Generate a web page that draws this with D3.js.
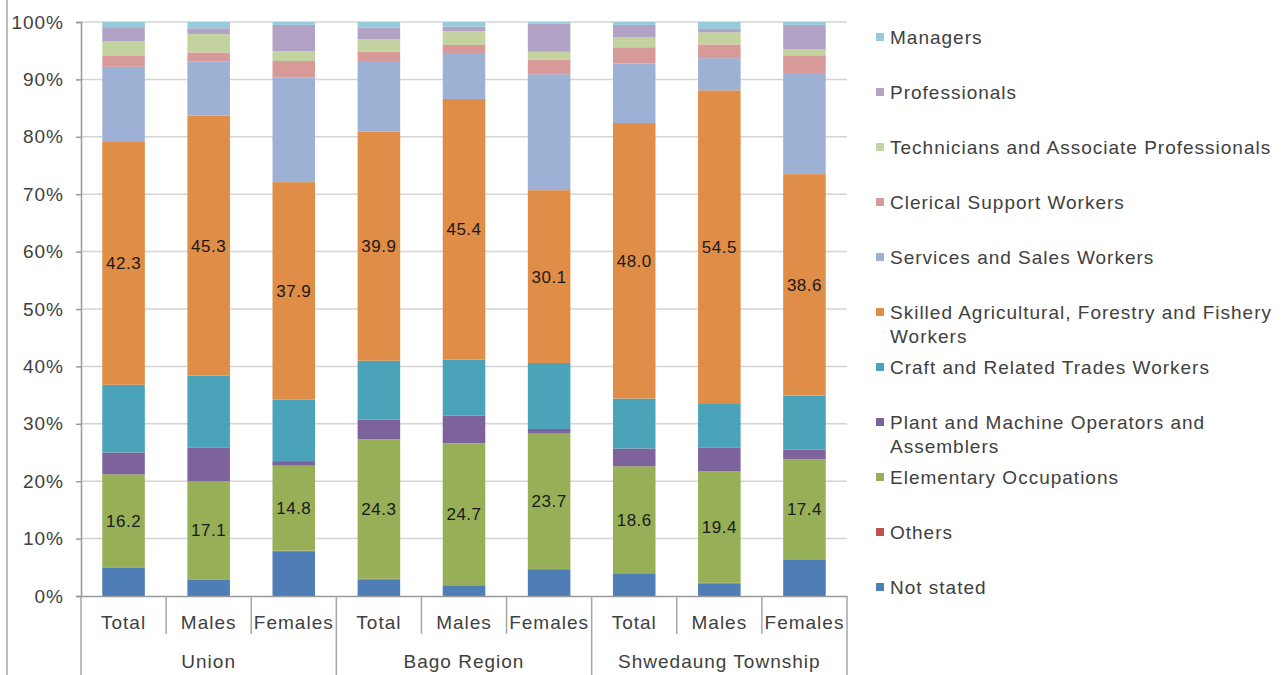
<!DOCTYPE html>
<html>
<head>
<meta charset="utf-8">
<script src="https://cdn.jsdelivr.net/npm/d3@7"></script>
<style>
  body { margin: 0; background: #fff; }
  svg { display: block; font-family: "Liberation Sans", Arial, sans-serif; }
  .axis text { font-size: 19px; fill: #404040; letter-spacing: 1px; }
  .legend text { font-size: 19px; fill: #404040; letter-spacing: 1px; }
  .cat-label { font-size: 19px; fill: #404040; letter-spacing: 1px; }
  .val-label { font-size: 17px; fill: #1a1a1a; letter-spacing: 0.5px; }
</style>
</head>
<body>
<svg width="1285" height="675"></svg>
<script>
// groups and sub-categories on the x axis
const groups = ['Union', 'Bago Region', 'Shwedaung Township'];
const sexes = ['Total', 'Males', 'Females'];

// series, bottom of the stack first
const seriesNames = [
  'Not stated', 'Others', 'Elementary Occupations',
  'Plant and Machine Operators and Assemblers',
  'Craft and Related Trades Workers',
  'Skilled Agricultural, Forestry and Fishery Workers',
  'Services and Sales Workers', 'Clerical Support Workers',
  'Technicians and Associate Professionals', 'Professionals', 'Managers'
];

// percent values, order: Union T/M/F, Bago T/M/F, Shwedaung T/M/F
const notStated     = [4.9, 2.8, 7.8, 2.9, 1.8, 4.6, 3.9, 2.2, 6.3];
const others        = [0.1, 0.1, 0.1, 0.1, 0.1, 0.1, 0.1, 0.1, 0.1];
const elementary    = [16.2, 17.1, 14.8, 24.3, 24.7, 23.7, 18.6, 19.4, 17.4];
const plant         = [3.8, 5.9, 0.8, 3.4, 4.8, 0.7, 3.1, 4.2, 1.7];
const craft         = [11.8, 12.5, 10.7, 10.3, 9.8, 11.5, 8.7, 7.7, 9.4];
const skilled       = [42.3, 45.3, 37.9, 39.9, 45.4, 30.1, 48.0, 54.5, 38.6];
const services      = [13.1, 9.4, 18.2, 12.3, 8.0, 20.2, 10.4, 5.6, 17.6];
const clerical      = [2.0, 1.6, 2.9, 1.6, 1.4, 2.5, 2.8, 2.4, 3.1];
const technicians   = [2.4, 3.2, 1.7, 2.2, 2.4, 1.4, 1.7, 2.1, 1.1];
const professionals = [2.5, 1.0, 4.6, 2.0, 0.8, 4.9, 2.2, 0.6, 4.2];
const managers      = [0.9, 1.1, 0.5, 1.0, 0.8, 0.3, 0.5, 1.2, 0.5];

const seriesValues = [notStated, others, elementary, plant, craft, skilled,
  services, clerical, technicians, professionals, managers];

// only these series carry data labels
const labelled = ['Elementary Occupations', 'Skilled Agricultural, Forestry and Fishery Workers'];

// legend text, wrapped the same way as the original
const legendLines = {
  'Skilled Agricultural, Forestry and Fishery Workers': ['Skilled Agricultural, Forestry and Fishery', 'Workers'],
  'Plant and Machine Operators and Assemblers': ['Plant and Machine Operators and', 'Assemblers']
};

const colors = ['#4F7DB5', '#C0504D', '#97B058', '#7E629C', '#4BA3BA', '#E08D47',
  '#9DB1D5', '#D79A98', '#C3D39F', '#B2A3C6', '#95CBDB'];

const svg = d3.select('svg');
const width = +svg.attr('width');
const height = +svg.attr('height');

const margin = { top: 22, left: 81, right: 438, bottom: 79 };
const innerWidth = width - margin.left - margin.right;
const innerHeight = height - margin.top - margin.bottom;

const render = () => {
  const data = [];
  groups.forEach((g, gi) => sexes.forEach((s, si) => {
    const i = gi * 3 + si;
    const row = { key: g + '|' + s, group: g, sex: s };
    seriesNames.forEach((n, k) => row[n] = seriesValues[k][i]);
    data.push(row);
  }));

  const stacked = d3.stack()
    .keys(seriesNames)
    .offset(d3.stackOffsetExpand)(data);

  const xScale = d3.scaleBand()
    .domain(data.map(d => d.key))
    .range([0, innerWidth])
    .paddingInner(0.5)
    .paddingOuter(0.25);

  const yScale = d3.scaleLinear()
    .domain([0, 1])
    .range([innerHeight, 0]);

  const color = d3.scaleOrdinal().domain(seriesNames).range(colors);

  // left frame line of the chart area
  svg.append('line')
    .attr('x1', 7).attr('x2', 7)
    .attr('y1', 0).attr('y2', height)
    .attr('stroke', '#A6A6A6')
    .attr('stroke-width', 1.5);

  const g = svg.append('g')
    .attr('transform', `translate(${margin.left},${margin.top})`);

  // gridlines
  g.append('g')
    .selectAll('line')
    .data(yScale.ticks(10).filter(t => t > 0))
    .enter().append('line')
    .attr('x1', 0).attr('x2', innerWidth)
    .attr('y1', d => yScale(d)).attr('y2', d => yScale(d))
    .attr('stroke', '#D4D4D4')
    .attr('stroke-width', 1.5);

  // bars
  const layers = g.selectAll('.layer')
    .data(stacked)
    .enter().append('g')
    .attr('class', 'layer')
    .attr('fill', d => color(d.key));

  layers.selectAll('rect')
    .data(d => d)
    .enter().append('rect')
    .attr('x', d => xScale(d.data.key))
    .attr('y', d => yScale(d[1]))
    .attr('width', xScale.bandwidth())
    .attr('height', d => yScale(d[0]) - yScale(d[1]));

  // data labels
  stacked.filter(s => labelled.includes(s.key)).forEach(s => {
    g.append('g').selectAll('text')
      .data(s)
      .enter().append('text')
      .attr('class', 'val-label')
      .attr('x', d => xScale(d.data.key) + xScale.bandwidth() / 2)
      .attr('y', d => yScale((d[0] + d[1]) / 2))
      .attr('text-anchor', 'middle')
      .attr('dy', '0.35em')
      .text(d => d.data[s.key].toFixed(1));
  });

  // y axis
  const yAxisGroup = g.append('g')
    .attr('class', 'axis')
    .call(d3.axisLeft(yScale)
      .ticks(10)
      .tickFormat(d3.format('.0%'))
      .tickSize(5)
      .tickPadding(12));
  yAxisGroup.selectAll('.domain, .tick line')
    .attr('stroke', '#999')
    .attr('stroke-width', 1.5);

  // x axis with two levels of labels
  const xAxisGroup = g.append('g')
    .attr('class', 'axis')
    .attr('transform', `translate(0,${innerHeight})`)
    .call(d3.axisBottom(xScale)
      .tickSize(0)
      .tickPadding(20)
      .tickFormat(k => k.split('|')[1]));
  xAxisGroup.select('.domain')
    .attr('stroke', '#999')
    .attr('stroke-width', 1.5);

  const step = xScale.step();
  const edge = (step - xScale.bandwidth()) / 2;
  const bounds = data.map((d, i) => ({ x: xScale(d.key) - edge, major: i % 3 === 0 }));
  bounds.push({ x: xScale(data[data.length - 1].key) + xScale.bandwidth() + edge, major: true });

  xAxisGroup.append('g')
    .selectAll('line')
    .data(bounds)
    .enter().append('line')
    .attr('x1', d => d.x).attr('x2', d => d.x)
    .attr('y1', 0)
    .attr('y2', d => d.major ? height - margin.top - innerHeight : 38)
    .attr('stroke', '#A6A6A6')
    .attr('stroke-width', 1.5);

  xAxisGroup.append('g')
    .selectAll('text')
    .data(groups)
    .enter().append('text')
    .attr('class', 'cat-label')
    .attr('x', (d, i) => {
      const first = xScale(d + '|' + sexes[0]);
      const last = xScale(d + '|' + sexes[sexes.length - 1]);
      return (first + last + xScale.bandwidth()) / 2;
    })
    .attr('y', 65)
    .attr('dy', '0.35em')
    .attr('text-anchor', 'middle')
    .text(d => d);

  // legend, top series first
  const legend = svg.append('g')
    .attr('class', 'legend')
    .attr('transform', 'translate(876,37)');

  const items = legend.selectAll('g')
    .data(seriesNames.slice().reverse())
    .enter().append('g')
    .attr('transform', (d, i) => `translate(0,${i * 55})`);

  items.append('rect')
    .attr('x', 0).attr('y', -4)
    .attr('width', 8).attr('height', 8)
    .attr('fill', d => color(d));

  items.append('text')
    .selectAll('tspan')
    .data(d => legendLines[d] || [d])
    .enter().append('tspan')
    .attr('x', 14)
    .attr('dy', (d, i) => i === 0 ? '0.35em' : '24px')
    .text(d => d);
};

render();
</script>
</body>
</html>
